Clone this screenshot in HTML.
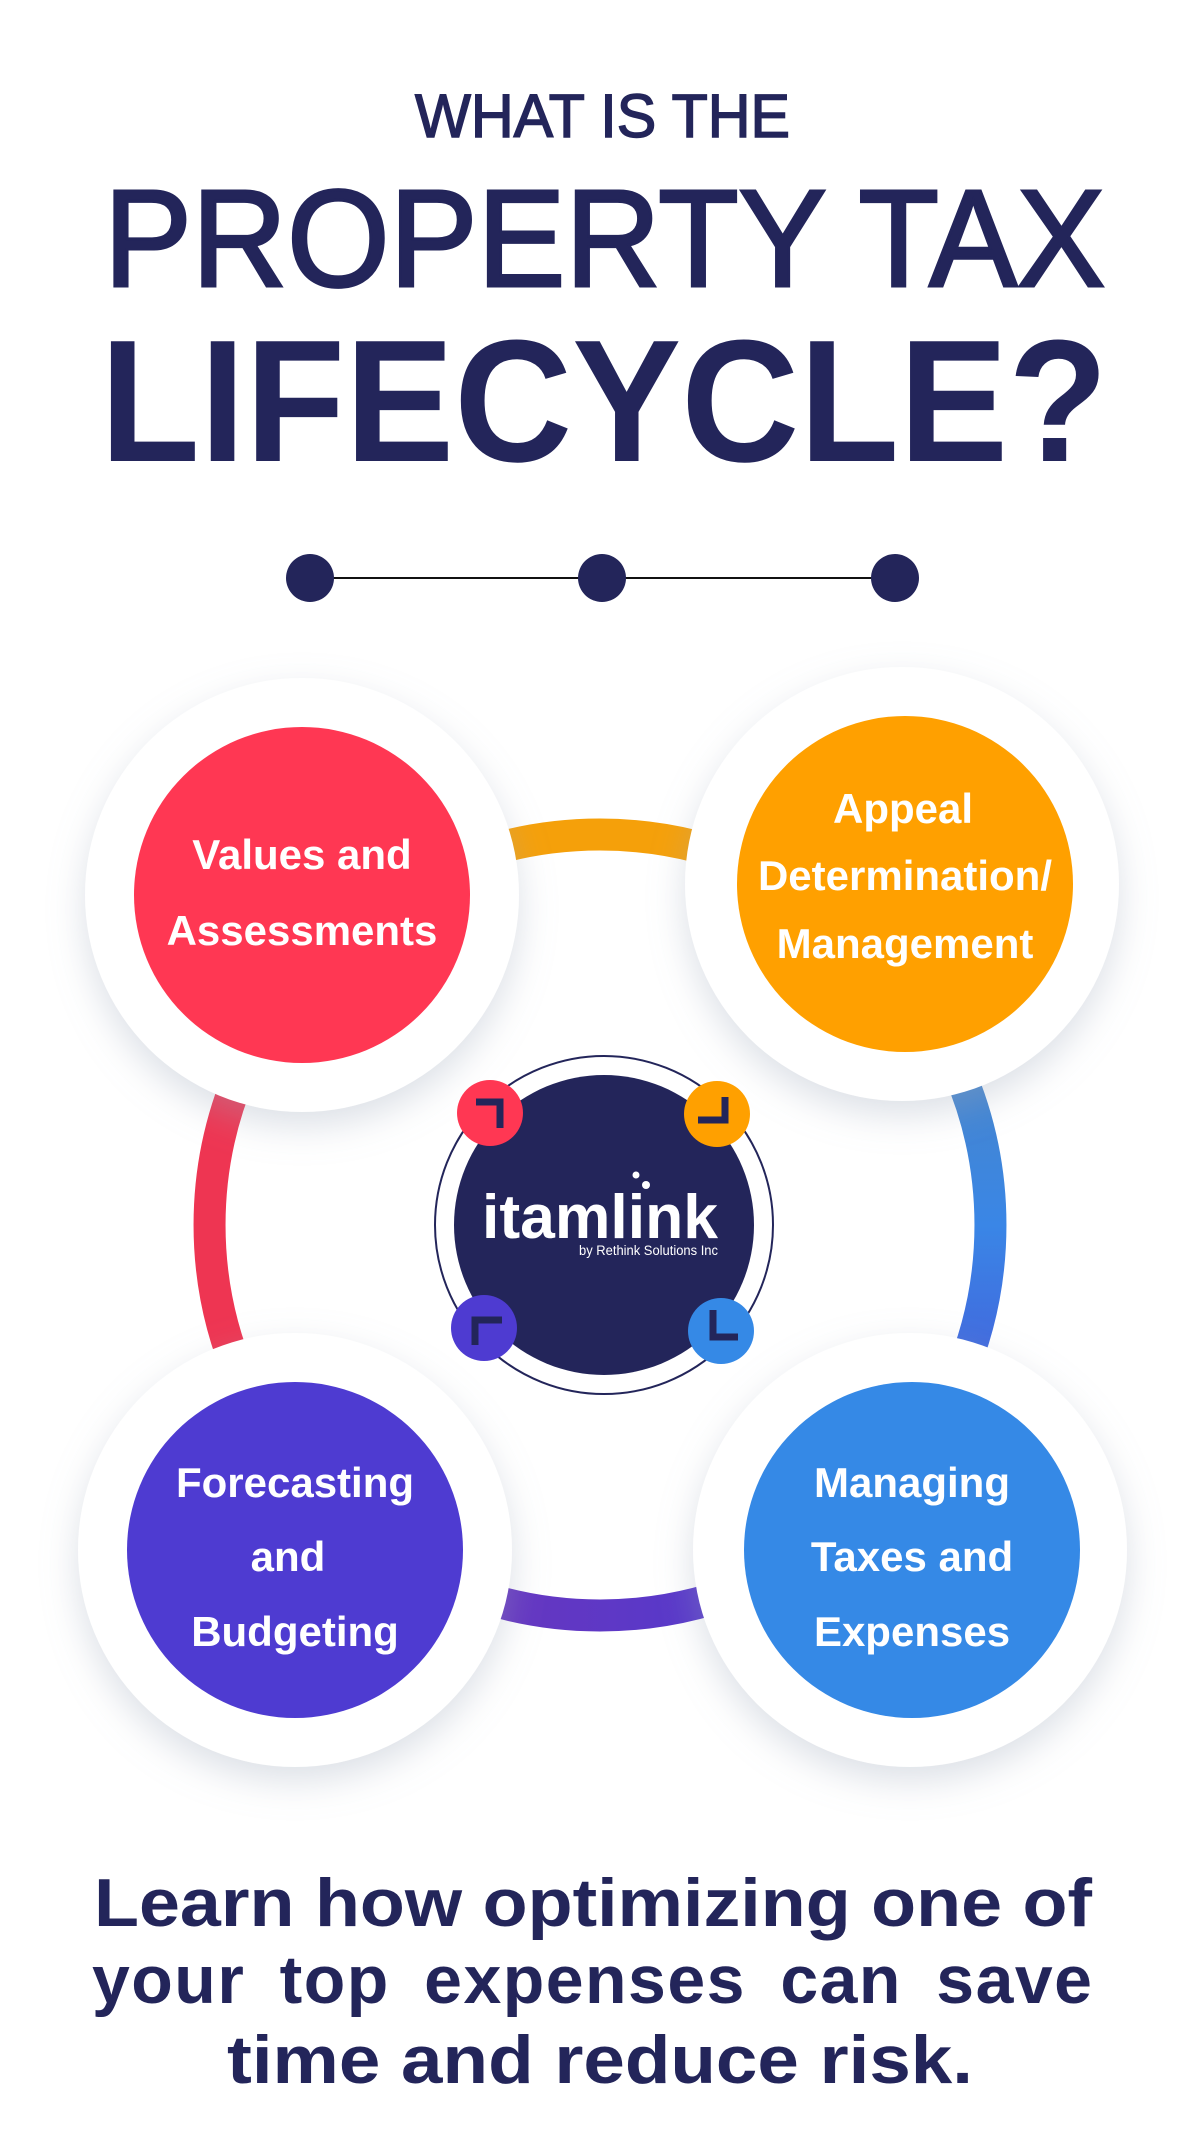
<!DOCTYPE html>
<html><head><meta charset="utf-8"><style>html,body{margin:0;padding:0;background:#fff;}svg{display:block}</style></head>
<body>
<svg width="1200" height="2133" viewBox="0 0 1200 2133" xmlns="http://www.w3.org/2000/svg" font-family="Liberation Sans, sans-serif">
<defs>
<filter id="sh" x="-30%" y="-30%" width="160%" height="170%"><feDropShadow dx="0" dy="14" stdDeviation="18" flood-color="#9aa6b8" flood-opacity="0.35"/></filter>
<linearGradient id="gr" x1="0" y1="0" x2="0" y2="1"><stop offset="0" stop-color="#4f84b8"/><stop offset="0.5" stop-color="#3a86e6"/><stop offset="1" stop-color="#4a48d4"/></linearGradient>
<linearGradient id="gb" x1="0" y1="0" x2="1" y2="0"><stop offset="0" stop-color="#7234b8"/><stop offset="1" stop-color="#4b3bd2"/></linearGradient>
</defs>
<rect width="1200" height="2133" fill="#fff"/>
<g fill="#23255a" stroke="#23255a">
<text x="415" y="137" font-size="61" stroke-width="1.5" textLength="375" lengthAdjust="spacingAndGlyphs">WHAT IS THE</text>
<text x="104" y="286" font-size="138" stroke-width="3" textLength="1001" lengthAdjust="spacingAndGlyphs">PROPERTY TAX</text>
<text x="100" y="461" font-size="174" font-weight="bold" stroke-width="0" textLength="1008" lengthAdjust="spacingAndGlyphs">LIFECYCLE?</text>
</g>
<line x1="310" y1="578" x2="895" y2="578" stroke="#111" stroke-width="2"/>
<circle cx="310" cy="578" r="24" fill="#23255a"/><circle cx="602" cy="578" r="24" fill="#23255a"/><circle cx="895" cy="578" r="24" fill="#23255a"/>
<g fill="none" stroke-width="32">
<path d="M 324 949 A 390 390 0 0 1 876 949" stroke="#f5a00a"/>
<path d="M 876 949 A 390 390 0 0 1 876 1501" stroke="url(#gr)"/>
<path d="M 876 1501 A 390 390 0 0 1 324 1501" stroke="url(#gb)"/>
<path d="M 324 1501 A 390 390 0 0 1 324 949" stroke="#ee3552"/>
</g>
<g fill="#fff" filter="url(#sh)">
<circle cx="302" cy="895" r="217"/>
<circle cx="902" cy="884" r="217"/>
<circle cx="295" cy="1550" r="217"/>
<circle cx="910" cy="1550" r="217"/>
</g>
<circle cx="302" cy="895" r="168" fill="#ff3753"/>
<circle cx="905" cy="884" r="168" fill="#ffa000"/>
<circle cx="295" cy="1550" r="168" fill="#4e3bd1"/>
<circle cx="912" cy="1550" r="168" fill="#3589e6"/>
<g fill="#fff" font-weight="bold" font-size="42" text-anchor="middle">
<text x="302" y="869">Values and</text>
<text x="302" y="945">Assessments</text>
<text x="903" y="823">Appeal</text>
<text x="905" y="890">Determination/</text>
<text x="905" y="958">Management</text>
<text x="295" y="1497">Forecasting</text>
<text x="288" y="1571">and</text>
<text x="295" y="1646">Budgeting</text>
<text x="912" y="1497">Managing</text>
<text x="912" y="1571">Taxes and</text>
<text x="912" y="1646">Expenses</text>
</g>
<circle cx="604" cy="1225" r="169" fill="#fff" stroke="#23255a" stroke-width="2"/>
<circle cx="604" cy="1225" r="150" fill="#23255a"/>
<text x="482" y="1238" font-size="62" font-weight="bold" fill="#fff" textLength="236" lengthAdjust="spacingAndGlyphs">itamlink</text>
<circle cx="636" cy="1175" r="3.5" fill="#fff"/><circle cx="646" cy="1185" r="4" fill="#fff"/>
<text x="579" y="1255" font-size="13.5" fill="#fff" textLength="139" lengthAdjust="spacingAndGlyphs">by Rethink Solutions Inc</text>
<g fill="none" stroke="#23255a" stroke-width="7">
<circle cx="490" cy="1113" r="33" fill="#ff3753" stroke="none"/>
<path d="M476 1102 H500 V1128"/>
<circle cx="717" cy="1114" r="33" fill="#ffa000" stroke="none"/>
<path d="M725 1097 V1120 H698"/>
<circle cx="484" cy="1328" r="33" fill="#4e3bd1" stroke="none"/>
<path d="M502 1320 H475 V1345"/>
<circle cx="721" cy="1331" r="33" fill="#3589e6" stroke="none"/>
<path d="M713 1310 V1337 H738"/>
</g>
<g fill="#23255a" font-size="68" font-weight="bold">
<text x="94" y="1926" textLength="998" lengthAdjust="spacingAndGlyphs">Learn how optimizing one of</text>
<text x="92" y="2003" textLength="1000" lengthAdjust="spacing" word-spacing="14">your top expenses can save</text>
<text x="600" y="2083" text-anchor="middle" textLength="746" lengthAdjust="spacingAndGlyphs">time and reduce risk.</text>
</g>
</svg>
</body></html>
